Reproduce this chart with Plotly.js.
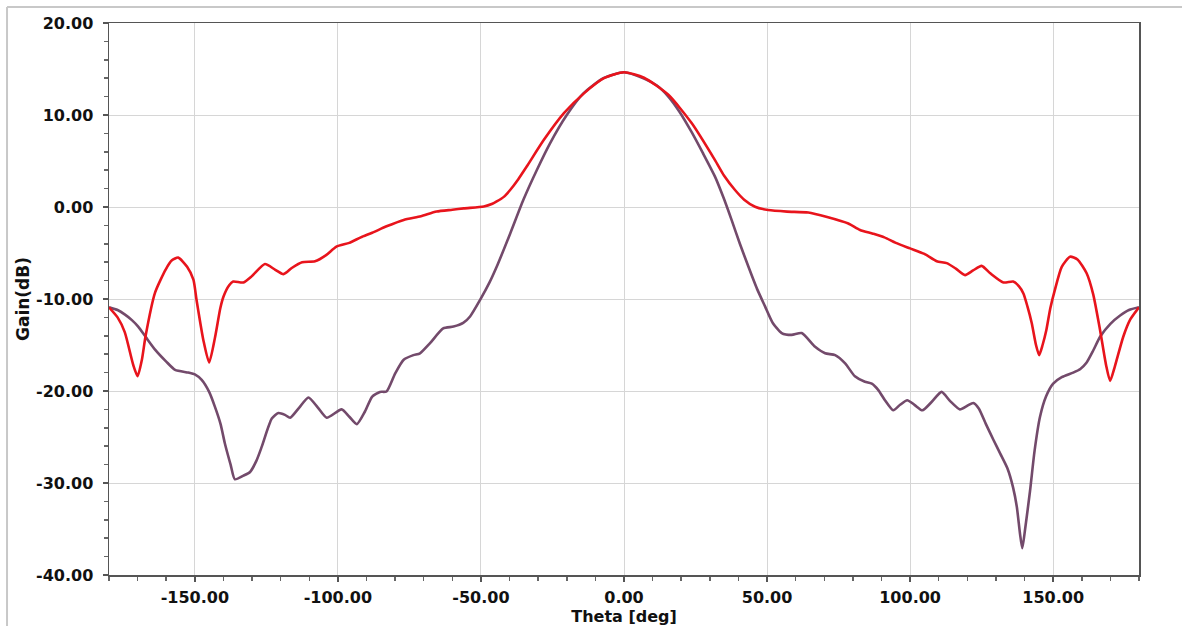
<!DOCTYPE html>
<html>
<head>
<meta charset="utf-8">
<script src="https://cdn.plot.ly/plotly-3.0.1.min.js"></script>
<style>html,body{margin:0;padding:0;background:#fff;}#chart{width:1182px;height:626px;}</style>
</head>
<body>
<div id="chart"></div>
<script>
// Red trace (theta in deg, gain in dB)
const redTheta = [-180,-177,-174.5,-171.5,-170,-168.5,-167.2,-163.9,-160.2,-158,-155.8,-152.7,-150.5,-149.4,-147,-145,-142.9,-141.1,-140,-138,-136.6,-133,-130,-125.5,-122,-119,-116,-112.5,-108,-104,-100.5,-96,-92,-88,-83,-77,-71,-65.5,-60,-56,-49,-46,-44.5,-42,-39.8,-37,-34,-28,-21,-14,-7,0,7,15.5,23.7,31.8,35,38.8,42,45.8,50.4,57,64.4,71,78.4,82.5,87,91,95,100,105,109.3,112.8,116,119.2,122,125,128,132.6,136,138,139.6,141,142.5,144,145.1,146.3,147.6,149,150.6,153,155.9,158.5,161.7,164,166.4,168.5,169.9,171.5,174.5,177,180];
const redGain = [-10.9,-12.0,-13.6,-17.2,-18.4,-16.6,-14.0,-9.3,-6.8,-5.8,-5.5,-6.5,-7.9,-10.1,-14.5,-16.9,-14.1,-11.0,-9.75,-8.5,-8.1,-8.2,-7.5,-6.2,-6.8,-7.3,-6.6,-6.0,-5.9,-5.2,-4.3,-3.9,-3.3,-2.8,-2.1,-1.4,-1.0,-0.5,-0.3,-0.15,0.05,0.35,0.6,1.1,1.85,3.0,4.4,7.3,10.2,12.35,14.0,14.65,14.05,12.2,9.1,5.1,3.4,1.85,0.8,0.03,-0.33,-0.5,-0.6,-1.1,-1.8,-2.5,-2.9,-3.3,-3.9,-4.5,-5.1,-5.9,-6.1,-6.7,-7.4,-6.9,-6.4,-7.2,-8.2,-8.1,-8.6,-9.4,-10.8,-12.6,-15.0,-16.1,-15.0,-13.4,-11.0,-9.0,-6.5,-5.4,-5.7,-7.2,-9.5,-13.4,-17.2,-18.9,-17.4,-14.1,-12.2,-10.9];

// Purple trace
const purpleTheta = [-180,-177,-174.4,-172,-169.8,-167,-163.9,-160,-156.9,-152.3,-150,-147.6,-145,-143,-141,-139.5,-137.5,-136,-133,-130.7,-128.5,-126.6,-123.1,-120.8,-118.5,-116.7,-113.5,-110.3,-107,-103.9,-98.7,-96,-93.4,-90.5,-88,-85.3,-83,-80,-77,-73.6,-71.3,-67.8,-63.2,-59.6,-56.2,-53.8,-50.3,-47,-44.5,-39.8,-35.2,-30.5,-25.9,-20,-14.2,-7.2,0,7,11.5,15.5,19.5,23.7,27.5,31.8,34.8,37.6,40.5,43.5,46.5,49.3,52,55.1,58.6,62.1,66.8,70.3,73.8,77.3,80.7,84.2,86.6,88.9,91.2,94.1,96.5,99,101.5,104.3,107.5,111,114,117.4,120,122.1,124,126.5,129.1,131.5,134,136,137.3,138.4,139.2,140.2,141.9,143.5,145.4,147.5,150,153,157,159.5,161.7,164,166.4,170,173.4,176.5,180];
const purpleGain = [-10.9,-11.2,-11.7,-12.3,-13.0,-14.2,-15.5,-16.8,-17.7,-18.0,-18.2,-18.8,-20.1,-21.7,-23.6,-25.7,-28.0,-29.6,-29.2,-28.8,-27.6,-26.05,-23.0,-22.4,-22.6,-22.9,-21.8,-20.7,-21.8,-22.9,-22.0,-22.8,-23.6,-22.2,-20.6,-20.1,-20.05,-18.1,-16.6,-16.1,-15.9,-14.8,-13.2,-13.0,-12.6,-11.9,-10.1,-8.2,-6.5,-2.9,0.76,4.0,6.9,10.0,12.35,14.0,14.65,13.95,13.2,12.0,10.3,8.1,5.9,3.3,1.0,-1.4,-4.0,-6.5,-8.9,-10.8,-12.6,-13.7,-13.9,-13.7,-15.2,-15.9,-16.1,-17.0,-18.4,-19.0,-19.2,-19.9,-21.0,-22.1,-21.5,-21.0,-21.5,-22.1,-21.2,-20.1,-21.1,-22.0,-21.6,-21.3,-21.9,-23.6,-25.3,-26.8,-28.4,-30.5,-32.6,-35.5,-37.1,-35.0,-30.9,-26.5,-22.8,-20.6,-19.2,-18.5,-18.0,-17.6,-16.9,-15.6,-14.1,-12.7,-11.8,-11.2,-10.9];

const xTickVals = [-150,-100,-50,0,50,100,150];
const xTickText = ['-150.00','-100.00','-50.00','0.00','50.00','100.00','150.00'];
const yTickVals = [-40,-30,-20,-10,0,10,20];
const yTickText = ['-40.00','-30.00','-20.00','-10.00','0.00','10.00','20.00'];

const FONT = 'DejaVu Sans, Liberation Sans, Arial, sans-serif';
const tickFont = {family: FONT, size: 16, color: '#111', weight: 700};

const traces = [
  {x: purpleTheta, y: purpleGain, type: 'scatter', mode: 'lines', line: {color: '#734a6b', width: 2.6, shape: 'spline', smoothing: 0.6}, hoverinfo: 'skip'},
  {x: redTheta, y: redGain, type: 'scatter', mode: 'lines', line: {color: '#e8141c', width: 2.6, shape: 'spline', smoothing: 0.6}, hoverinfo: 'skip'}
];

const layout = {
  width: 1182, height: 626,
  margin: {l: 109, r: 43, t: 23, b: 51},
  paper_bgcolor: '#ffffff', plot_bgcolor: '#ffffff',
  showlegend: false,
  xaxis: {
    range: [-180, 180], tickmode: 'array', tickvals: xTickVals, ticktext: xTickText,
    showgrid: true, gridcolor: '#d6d6d6', gridwidth: 1, zeroline: false,
    showline: true, linecolor: '#555', linewidth: 1.5, mirror: true,
    ticks: 'outside', ticklen: 5, tickcolor: '#555', tickwidth: 1.5,
    minor: {dtick: 10, tick0: 0, ticks: 'outside', ticklen: 4, tickcolor: '#666', showgrid: false},
    tickfont: tickFont, ticklabelstandoff: 2,
    title: {text: 'Theta [deg]', font: {family: FONT, size: 16, color: '#111', weight: 700}, standoff: 0}
  },
  yaxis: {
    range: [-40, 20], tickmode: 'array', tickvals: yTickVals, ticktext: yTickText,
    showgrid: true, gridcolor: '#d6d6d6', gridwidth: 1, zeroline: false,
    showline: true, linecolor: '#555', linewidth: 1.5, mirror: true,
    ticks: 'outside', ticklen: 5, tickcolor: '#555', tickwidth: 1.5,
    minor: {dtick: 2, tick0: 0, ticks: 'outside', ticklen: 4, tickcolor: '#666', showgrid: false},
    tickfont: tickFont, ticklabelstandoff: 6,
    title: {text: 'Gain(dB)', font: {family: FONT, size: 17, color: '#111', weight: 700}, standoff: 2}
  },
  shapes: [
    {type: 'line', xref: 'paper', yref: 'paper', x0: -0.099, x1: -0.099, y0: -0.1, y1: 1.029, line: {color: '#c8c8c8', width: 2}},
    {type: 'line', xref: 'paper', yref: 'paper', x0: -0.099, x1: 1.05, y0: 1.029, y1: 1.029, line: {color: '#c8c8c8', width: 2}}
  ]
};

Plotly.newPlot('chart', traces, layout, {staticPlot: true, displayModeBar: false});
</script>
</body>
</html>
